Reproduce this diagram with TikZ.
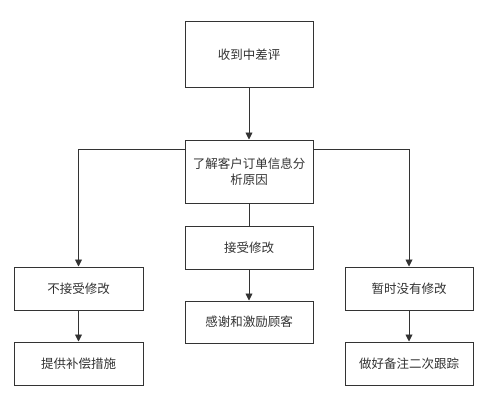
\documentclass[tikz,border=0pt]{standalone}
\usepackage{fontspec}
\setmainfont{Noto Sans CJK SC}
\usetikzlibrary{arrows.meta}
\definecolor{ln}{HTML}{333333}
\definecolor{tx}{HTML}{333333}
\begin{document}
\begin{tikzpicture}[x=1pt,y=1pt,
  box/.style={draw=ln,line width=1pt,fill=white,text=tx,inner sep=0pt,align=center,
    font=\fontsize{12.5}{15.5}\selectfont},
  arr/.style={draw=ln,line width=0.9pt,-{Triangle[width=7pt,length=7pt]}},
  ln1/.style={draw=ln,line width=0.9pt}]
\useasboundingbox[fill=white] (0,0) rectangle (500,408);
\node[box,minimum width=128pt,minimum height=65pt] (n1) at (249,353.5) {收到中差评};
\node[box,minimum width=128pt,minimum height=63pt] (n2) at (249,236.5) {了解客户订单信息分\\析原因};
\node[box,minimum width=128pt,minimum height=43pt] (n3) at (249,160.5) {接受修改};
\node[box,minimum width=128pt,minimum height=42pt] (n4) at (249,86) {感谢和激励顾客};
\node[box,minimum width=129pt,minimum height=43pt] (l1) at (78.5,119.5) {不接受修改};
\node[box,minimum width=129pt,minimum height=43pt] (l2) at (78.5,44.5) {提供补偿措施};
\node[box,minimum width=128pt,minimum height=43pt] (r1) at (409,119.5) {暂时没有修改};
\node[box,minimum width=128pt,minimum height=43pt] (r2) at (409,44.5) {做好备注二次跟踪};
\draw[arr] (n1) -- (n2);
\draw[ln1] (n2) -- (n3);
\draw[arr] (n3) -- (n4);
\draw[arr] ([yshift=-10pt]n2.north west) -| (l1.north);
\draw[arr] ([yshift=-10pt]n2.north east) -| (r1.north);
\draw[arr] (l1) -- (l2);
\draw[arr] (r1) -- (r2);
\end{tikzpicture}
\end{document}
